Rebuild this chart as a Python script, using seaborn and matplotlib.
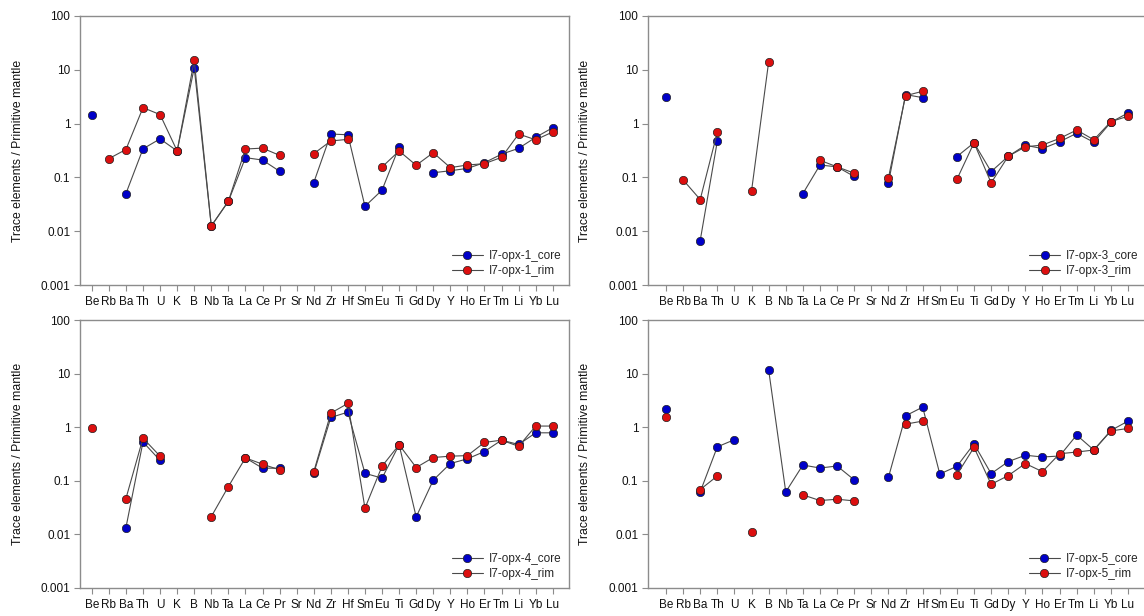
import numpy as np
import pandas as pd
import matplotlib
matplotlib.use("Agg")
import matplotlib.pyplot as plt
from matplotlib.lines import Line2D
from matplotlib.ticker import FixedLocator, FixedFormatter, NullLocator
import seaborn as sns

# ---------------------------------------------------------------------------
# Data (normalised to primitive mantle), NaN = not analysed / below detection
# ---------------------------------------------------------------------------
elements = ["Be", "Rb", "Ba", "Th", "U", "K", "B", "Nb", "Ta", "La", "Ce", "Pr",
            "Sr", "Nd", "Zr", "Hf", "Sm", "Eu", "Ti", "Gd", "Dy", "Y", "Ho", "Er",
            "Tm", "Li", "Yb", "Lu"]
nan = np.nan

opx1_core = [1.47, nan, 0.05, 0.34, 0.52, 0.31, 10.9, 0.0125, 0.036, 0.233, 0.21, 0.13,
             nan, 0.08, 0.64, 0.62, 0.029, 0.058, 0.37, nan, 0.122, 0.133, 0.147, 0.188,
             0.27, 0.347, 0.556, 0.84]
opx1_rim = [nan, 0.223, 0.33, 1.98, 1.47, 0.31, 15.0, 0.0125, 0.036, 0.337, 0.35, 0.257,
            nan, 0.276, 0.475, 0.51, nan, 0.156, 0.31, 0.168, 0.288, 0.152, 0.17, 0.18,
            0.236, 0.64, 0.50, 0.70]

opx3_core = [3.18, nan, 0.0067, 0.47, nan, nan, nan, nan, 0.05, 0.17, 0.157, 0.104,
             nan, 0.079, 3.46, 3.04, nan, 0.244, 0.44, 0.128, 0.247, 0.396, 0.343, 0.46,
             0.66, 0.45, 1.06, 1.58]
opx3_rim = [nan, 0.09, 0.0388, 0.69, nan, 0.056, 14.0, nan, nan, 0.208, 0.157, 0.12,
            nan, 0.098, 3.3, 3.99, nan, 0.092, 0.44, 0.079, 0.247, 0.37, 0.40, 0.53,
            0.76, 0.50, 1.09, 1.37]

opx4_core = [nan, nan, 0.0134, 0.53, 0.24, nan, nan, nan, nan, 0.268, 0.172, 0.172,
             nan, 0.138, 1.52, 1.91, 0.138, 0.112, 0.47, 0.0212, 0.103, 0.21, 0.257, 0.352,
             0.573, 0.476, 0.786, 0.786]
opx4_rim = [0.95, nan, 0.0467, 0.625, 0.288, nan, nan, 0.0215, 0.078, 0.268, 0.204, 0.16,
            nan, 0.147, 1.83, 2.78, 0.0308, 0.187, 0.47, 0.177, 0.272, 0.288, 0.295, 0.52,
            0.573, 0.44, 1.05, 1.05]

opx5_core = [2.14, nan, 0.062, 0.43, 0.585, nan, 11.7, 0.062, 0.197, 0.173, 0.189, 0.104,
             nan, 0.116, 1.63, 2.37, 0.134, 0.186, 0.49, 0.136, 0.228, 0.30, 0.278, 0.29,
             0.714, 0.375, 0.87, 1.30]
opx5_rim = [1.55, nan, 0.0686, 0.123, nan, 0.0112, nan, nan, 0.0546, 0.0428, 0.0453, 0.0422,
            nan, nan, 1.14, 1.30, nan, 0.13, 0.42, 0.086, 0.125, 0.21, 0.148, 0.32,
            0.344, 0.375, 0.85, 0.95]

samples = ["I7-opx-1", "I7-opx-3", "I7-opx-4", "I7-opx-5"]
series = {
    "I7-opx-1": (opx1_core, opx1_rim),
    "I7-opx-3": (opx3_core, opx3_rim),
    "I7-opx-4": (opx4_core, opx4_rim),
    "I7-opx-5": (opx5_core, opx5_rim),
}

y_ticks = [0.001, 0.01, 0.1, 1, 10, 100]
y_tick_labels = ["0.001", "0.01", "0.1", "1", "10", "100"]

CORE_COLOR = "#0000c8"
RIM_COLOR = "#dc0f0f"
LINE_COLOR = "#4a4a4a"
SPINE_COLOR = "#8c8c8c"

sns.set_style("white")
plt.rcParams["font.family"] = ["Liberation Sans", "DejaVu Sans"]


def draw_series(ax, values, color):
    """Draw one pattern with seaborn, one call per contiguous run so gaps stay open."""
    df = pd.DataFrame({"x": np.arange(len(elements)), "y": values})
    run_id = df["y"].isna().cumsum()
    for _, seg in df.dropna().groupby(run_id[df["y"].notna()]):
        sns.lineplot(
            data=seg, x="x", y="y", ax=ax,
            color=LINE_COLOR, linewidth=0.8,
            marker="o", markersize=6.0,
            markerfacecolor=color, markeredgecolor="#202020",
            markeredgewidth=0.5, estimator=None, sort=False,
        )


# axes rectangles in pixels: left, top, right, bottom
W, H = 1144, 616
boxes = [
    (80, 16, 569, 285, (-0.69, 27.95)),
    (648, 16, 1146, 285, (-1.05, 28.05)),
    (80, 320, 569, 588, (-0.69, 27.95)),
    (648, 320, 1146, 588, (-1.05, 28.05)),
]

fig = plt.figure(figsize=(W / 100, H / 100), dpi=100)

for sample, (l, t, r, b, xlim) in zip(samples, boxes):
    ax = fig.add_axes([l / W, 1 - b / H, (r - l) / W, (b - t) / H])
    core, rim = series[sample]
    draw_series(ax, core, CORE_COLOR)
    draw_series(ax, rim, RIM_COLOR)

    ax.set_yscale("log")
    ax.set_ylim(0.001, 100)
    ax.yaxis.set_major_locator(FixedLocator(y_ticks))
    ax.yaxis.set_major_formatter(FixedFormatter(y_tick_labels))
    ax.yaxis.set_minor_locator(NullLocator())
    ax.set_xlim(*xlim)
    ax.set_xticks(np.arange(len(elements)))
    ax.set_xticklabels(elements)
    ax.tick_params(axis="both", direction="out", length=4, width=0.8,
                   color=SPINE_COLOR, labelsize=8.5, pad=3, labelcolor="#111111",
                   bottom=True, left=True)
    ax.tick_params(axis="x", pad=4)
    ax.set_xlabel("")
    ax.set_ylabel("Trace elements / Primitive mantle", fontsize=8.8, color="#111111")
    ax.yaxis.set_label_coords(-0.115, 0.5)
    for sp in ax.spines.values():
        sp.set_color(SPINE_COLOR)
        sp.set_linewidth(1.0)

    handles = [
        Line2D([], [], color=LINE_COLOR, linewidth=0.8, marker="o", markersize=6.0,
               markerfacecolor=CORE_COLOR, markeredgecolor="#202020", markeredgewidth=0.5),
        Line2D([], [], color=LINE_COLOR, linewidth=0.8, marker="o", markersize=6.0,
               markerfacecolor=RIM_COLOR, markeredgecolor="#202020", markeredgewidth=0.5),
    ]
    ax.legend(handles, [f"{sample}_core", f"{sample}_rim"], loc="lower right",
              frameon=False, fontsize=8.5, handlelength=2.6, handletextpad=0.5,
              labelspacing=0.25, borderaxespad=0.25)

fig.savefig("out.png", dpi=100)
